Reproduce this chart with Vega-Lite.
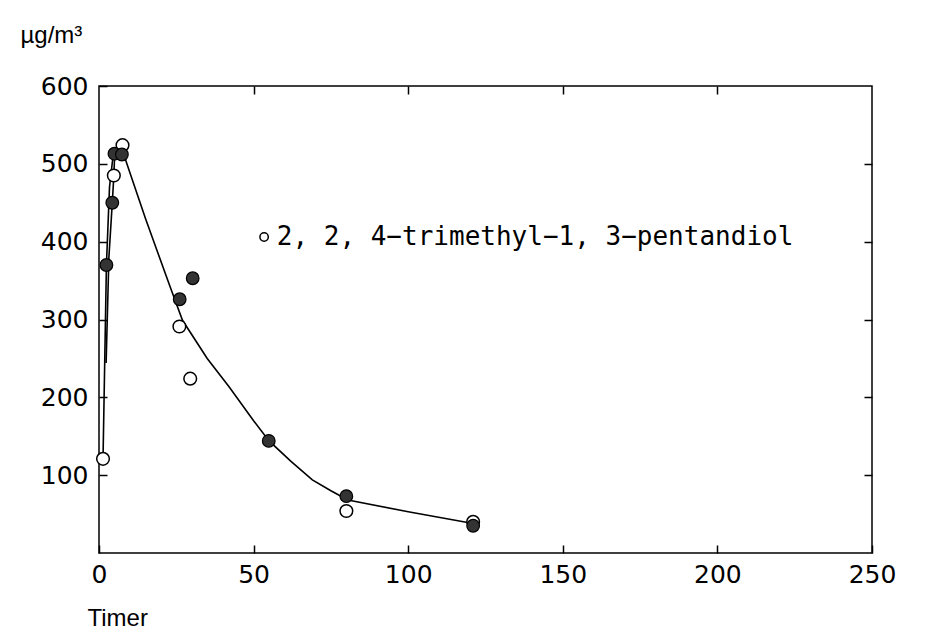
{
  "$schema": "https://vega.github.io/schema/vega-lite/v6.json",
  "width": 773,
  "height": 467,
  "autosize": {"type": "none"},
  "padding": {"left": 99, "top": 86, "right": 59, "bottom": 81},
  "background": "white",
  "config": {
    "view": {"stroke": "black", "strokeWidth": 1.5},
    "axis": {"grid": false, "domain": false, "labelColor": "black", "tickColor": "black", "titleColor": "black"}
  },
  "resolve": {"axis": {"x": "independent", "y": "independent"}},
  "datasets": {
    "points": [
      {"t": 1.3, "v": 121, "kind": "open"},
      {"t": 4.8, "v": 485, "kind": "open"},
      {"t": 7.6, "v": 524, "kind": "open"},
      {"t": 26, "v": 291, "kind": "open"},
      {"t": 29.5, "v": 224, "kind": "open"},
      {"t": 80, "v": 54, "kind": "open"},
      {"t": 121, "v": 40, "kind": "open"},
      {"t": 2.4, "v": 370, "kind": "filled"},
      {"t": 4.3, "v": 450, "kind": "filled"},
      {"t": 5, "v": 513, "kind": "filled"},
      {"t": 7.4, "v": 512, "kind": "filled"},
      {"t": 26.1, "v": 326, "kind": "filled"},
      {"t": 30.3, "v": 353, "kind": "filled"},
      {"t": 54.9, "v": 144, "kind": "filled"},
      {"t": 80, "v": 73, "kind": "filled"},
      {"t": 121, "v": 35, "kind": "filled"}
    ],
    "curves": [
      {"curve": "a", "i": 1, "t": 1.3, "v": 121},
      {"curve": "a", "i": 2, "t": 2.4, "v": 370},
      {"curve": "a", "i": 3, "t": 3.4, "v": 470},
      {"curve": "a", "i": 4, "t": 4.6, "v": 512},
      {"curve": "b", "i": 1, "t": 2.3, "v": 244},
      {"curve": "b", "i": 2, "t": 3.2, "v": 380},
      {"curve": "b", "i": 3, "t": 4.3, "v": 450},
      {"curve": "b", "i": 4, "t": 4.8, "v": 485},
      {"curve": "b", "i": 5, "t": 5, "v": 505},
      {"curve": "m", "i": 1, "t": 5, "v": 513},
      {"curve": "m", "i": 2, "t": 8, "v": 512},
      {"curve": "m", "i": 3, "t": 15, "v": 430},
      {"curve": "m", "i": 4, "t": 23, "v": 342},
      {"curve": "m", "i": 5, "t": 27, "v": 299},
      {"curve": "m", "i": 6, "t": 35, "v": 250},
      {"curve": "m", "i": 7, "t": 42, "v": 214},
      {"curve": "m", "i": 8, "t": 50, "v": 170},
      {"curve": "m", "i": 9, "t": 55, "v": 144},
      {"curve": "m", "i": 10, "t": 62, "v": 118},
      {"curve": "m", "i": 11, "t": 69, "v": 94},
      {"curve": "m", "i": 12, "t": 75, "v": 80},
      {"curve": "m", "i": 13, "t": 80.5, "v": 68},
      {"curve": "m", "i": 14, "t": 100, "v": 53},
      {"curve": "m", "i": 15, "t": 121, "v": 38}
    ],
    "note": [
      {"t": 53.4, "v": 406, "label": "2, 2, 4−trimethyl−1, 3−pentandiol", "tx": 57.5}
    ]
  },
  "layer": [
    {
      "data": {"name": "curves"},
      "mark": {"type": "line", "color": "black", "strokeWidth": 1.6},
      "encoding": {
        "x": {
          "field": "t", "type": "quantitative",
          "scale": {"domain": [0, 250], "nice": false},
          "axis": {
            "orient": "bottom",
            "values": [0, 50, 100, 150, 200, 250],
            "offset": -8, "tickSize": 8, "tickWidth": 1.5,
            "labelFont": "DejaVu Sans", "labelFontSize": 25, "labelPadding": 9,
            "labelFlush": false,
            "title": "Timer", "titleFont": "Liberation Sans", "titleFontSize": 24, "titleFontWeight": "normal",
            "titleAnchor": "start", "titleAlign": "left", "titleX": -12, "titleY": 80, "titleBaseline": "alphabetic"
          }
        },
        "y": {
          "field": "v", "type": "quantitative",
          "scale": {"domain": [0, 600], "nice": false},
          "axis": {
            "orient": "left",
            "values": [100, 200, 300, 400, 500, 600],
            "offset": -8, "tickSize": 8, "tickWidth": 1.5,
            "labelFont": "DejaVu Sans", "labelFontSize": 25, "labelPadding": 11,
            "labelFlush": false,
            "title": "µg/m³", "titleFont": "Liberation Sans", "titleFontSize": 24, "titleFontWeight": "normal",
            "titleAngle": 0, "titleAlign": "left", "titleBaseline": "alphabetic", "titleX": -87, "titleY": -44
          }
        },
        "detail": {"field": "curve"},
        "order": {"field": "i"}
      }
    },
    {
      "data": {"name": "points"},
      "transform": [{"filter": "datum.kind === 'open'"}],
      "mark": {"type": "point", "shape": "circle", "filled": true, "fill": "white", "stroke": "black", "strokeWidth": 1.5, "size": 160, "opacity": 1},
      "encoding": {
        "x": {"field": "t", "type": "quantitative",
          "axis": {"orient": "top", "values": [50, 100, 150, 200], "labels": false, "title": null, "offset": -8, "tickSize": 8, "tickWidth": 1.5}},
        "y": {"field": "v", "type": "quantitative",
          "axis": {"orient": "right", "values": [100, 200, 300, 400, 500], "labels": false, "title": null, "offset": -8, "tickSize": 8, "tickWidth": 1.5}}
      }
    },
    {
      "data": {"name": "points"},
      "transform": [{"filter": "datum.kind === 'filled'"}],
      "mark": {"type": "point", "shape": "circle", "filled": true, "fill": "#333333", "stroke": "black", "strokeWidth": 1.2, "size": 160, "opacity": 1},
      "encoding": {
        "x": {"field": "t", "type": "quantitative", "axis": null},
        "y": {"field": "v", "type": "quantitative", "axis": null}
      }
    },
    {
      "data": {"name": "note"},
      "mark": {"type": "point", "shape": "circle", "filled": true, "fill": "white", "stroke": "black", "strokeWidth": 1.5, "size": 70, "opacity": 1},
      "encoding": {
        "x": {"field": "t", "type": "quantitative", "axis": null},
        "y": {"field": "v", "type": "quantitative", "axis": null}
      }
    },
    {
      "data": {"name": "note"},
      "mark": {"type": "text", "font": "DejaVu Sans Mono", "fontSize": 26, "align": "left", "baseline": "middle", "color": "black"},
      "encoding": {
        "x": {"field": "tx", "type": "quantitative", "axis": null},
        "y": {"field": "v", "type": "quantitative", "axis": null},
        "text": {"field": "label"}
      }
    }
  ]
}
